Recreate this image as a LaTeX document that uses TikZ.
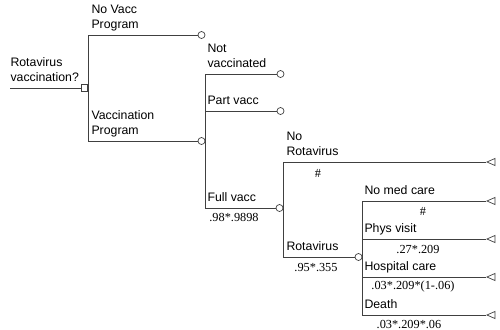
\documentclass[tikz,border=0pt]{standalone}
\usepackage{fontspec}
\setmainfont{Liberation Sans}
\newfontfamily\probfont{Liberation Serif}
\usetikzlibrary{shapes.geometric}

\begin{document}
\begin{tikzpicture}[x=0.03cm, y=-0.03cm, line width=0.6pt,
    every node/.style={font=\fontsize{10.5}{12.5}\selectfont},
    decision/.style={draw=black!75, rectangle, inner sep=0pt, minimum size=0.2cm},
    chance/.style={draw=black!75, circle, inner sep=0pt, minimum size=0.21cm},
    terminal/.style={draw=black!75, isosceles triangle, shape border rotate=180,
        isosceles triangle stretches, inner sep=0pt, minimum height=0.24cm, minimum width=0.21cm},
    lbl/.style={anchor=south west, inner sep=1pt, align=left, text depth=0pt},
    prob/.style={inner sep=1pt, font=\probfont\fontsize{10.5}{12.5}\selectfont}]
    \useasboundingbox (0,0) rectangle (500,329);

    % Nodes
    \coordinate (root) at (10,88);
    \node[decision] (dec) at (84.5,88) {};
    \node[chance] (novacc) at (201.5,35) {};
    \node[chance] (vacc) at (201.5,141) {};
    \node[chance] (notv) at (280.5,74) {};
    \node[chance] (partv) at (280.5,111) {};
    \node[chance] (fullv) at (279.5,208) {};
    \node[chance] (rota) at (358.5,257) {};
    \node[terminal, anchor=apex] (norota) at (486,162) {};
    \node[terminal, anchor=apex] (nomed) at (486,201) {};
    \node[terminal, anchor=apex] (phys) at (486,239) {};
    \node[terminal, anchor=apex] (hosp) at (486,277) {};
    \node[terminal, anchor=apex] (death) at (486,315) {};

    % Labels
    \node[lbl] (lroot) at (9,83) {Rotavirus\\vaccination?};
    \node[lbl] (lnovacc) at (90,30) {No Vacc\\Program};
    \node[lbl] (lvacc) at (90,136) {Vaccination\\Program};
    \node[lbl] (lnotv) at (206,69) {Not\\vaccinated};
    \node[lbl] (lpartv) at (206,106) {Part vacc};
    \node[lbl] (lfullv) at (206,203) {Full vacc};
    \node[lbl] (lnorota) at (285,157) {No\\Rotavirus};
    \node[lbl] (lrota) at (285,252) {Rotavirus};
    \node[lbl] (lnomed) at (363,196) {No med care};
    \node[lbl] (lphys) at (363,234) {Phys visit};
    \node[lbl] (lhosp) at (363,272) {Hospital care};
    \node[lbl] (ldeath) at (363,310) {Death};

    % Probabilities
    \node[prob] (pnorota) at (318,173) {\#};
    \node[prob] (pfullv) at (234,217) {.98*.9898};
    \node[prob] (prota) at (316,268) {.95*.355};
    \node[prob] (pnomed) at (423,211) {\#};
    \node[prob] (pphys) at (418,249) {.27*.209};
    \node[prob] (phosp) at (413,287) {.03*.209*(1-.06)};
    \node[prob] (pdeath) at (409,324) {.03*.209*.06};

    % Edges
    \begin{scope}[draw=black!75]
    \draw (root) -- (dec);
    \draw (dec.east) |- (novacc);
    \draw (dec.east) |- (vacc);
    \draw (vacc.east) |- (notv);
    \draw (vacc.east) |- (partv);
    \draw (vacc.east) |- (fullv);
    \draw (fullv.east) |- (norota.apex);
    \draw (fullv.east) |- (rota);
    \draw (rota.east) |- (nomed.apex);
    \draw (rota.east) |- (phys.apex);
    \draw (rota.east) |- (hosp.apex);
    \draw (rota.east) |- (death.apex);
    \end{scope}
\end{tikzpicture}
\end{document}
